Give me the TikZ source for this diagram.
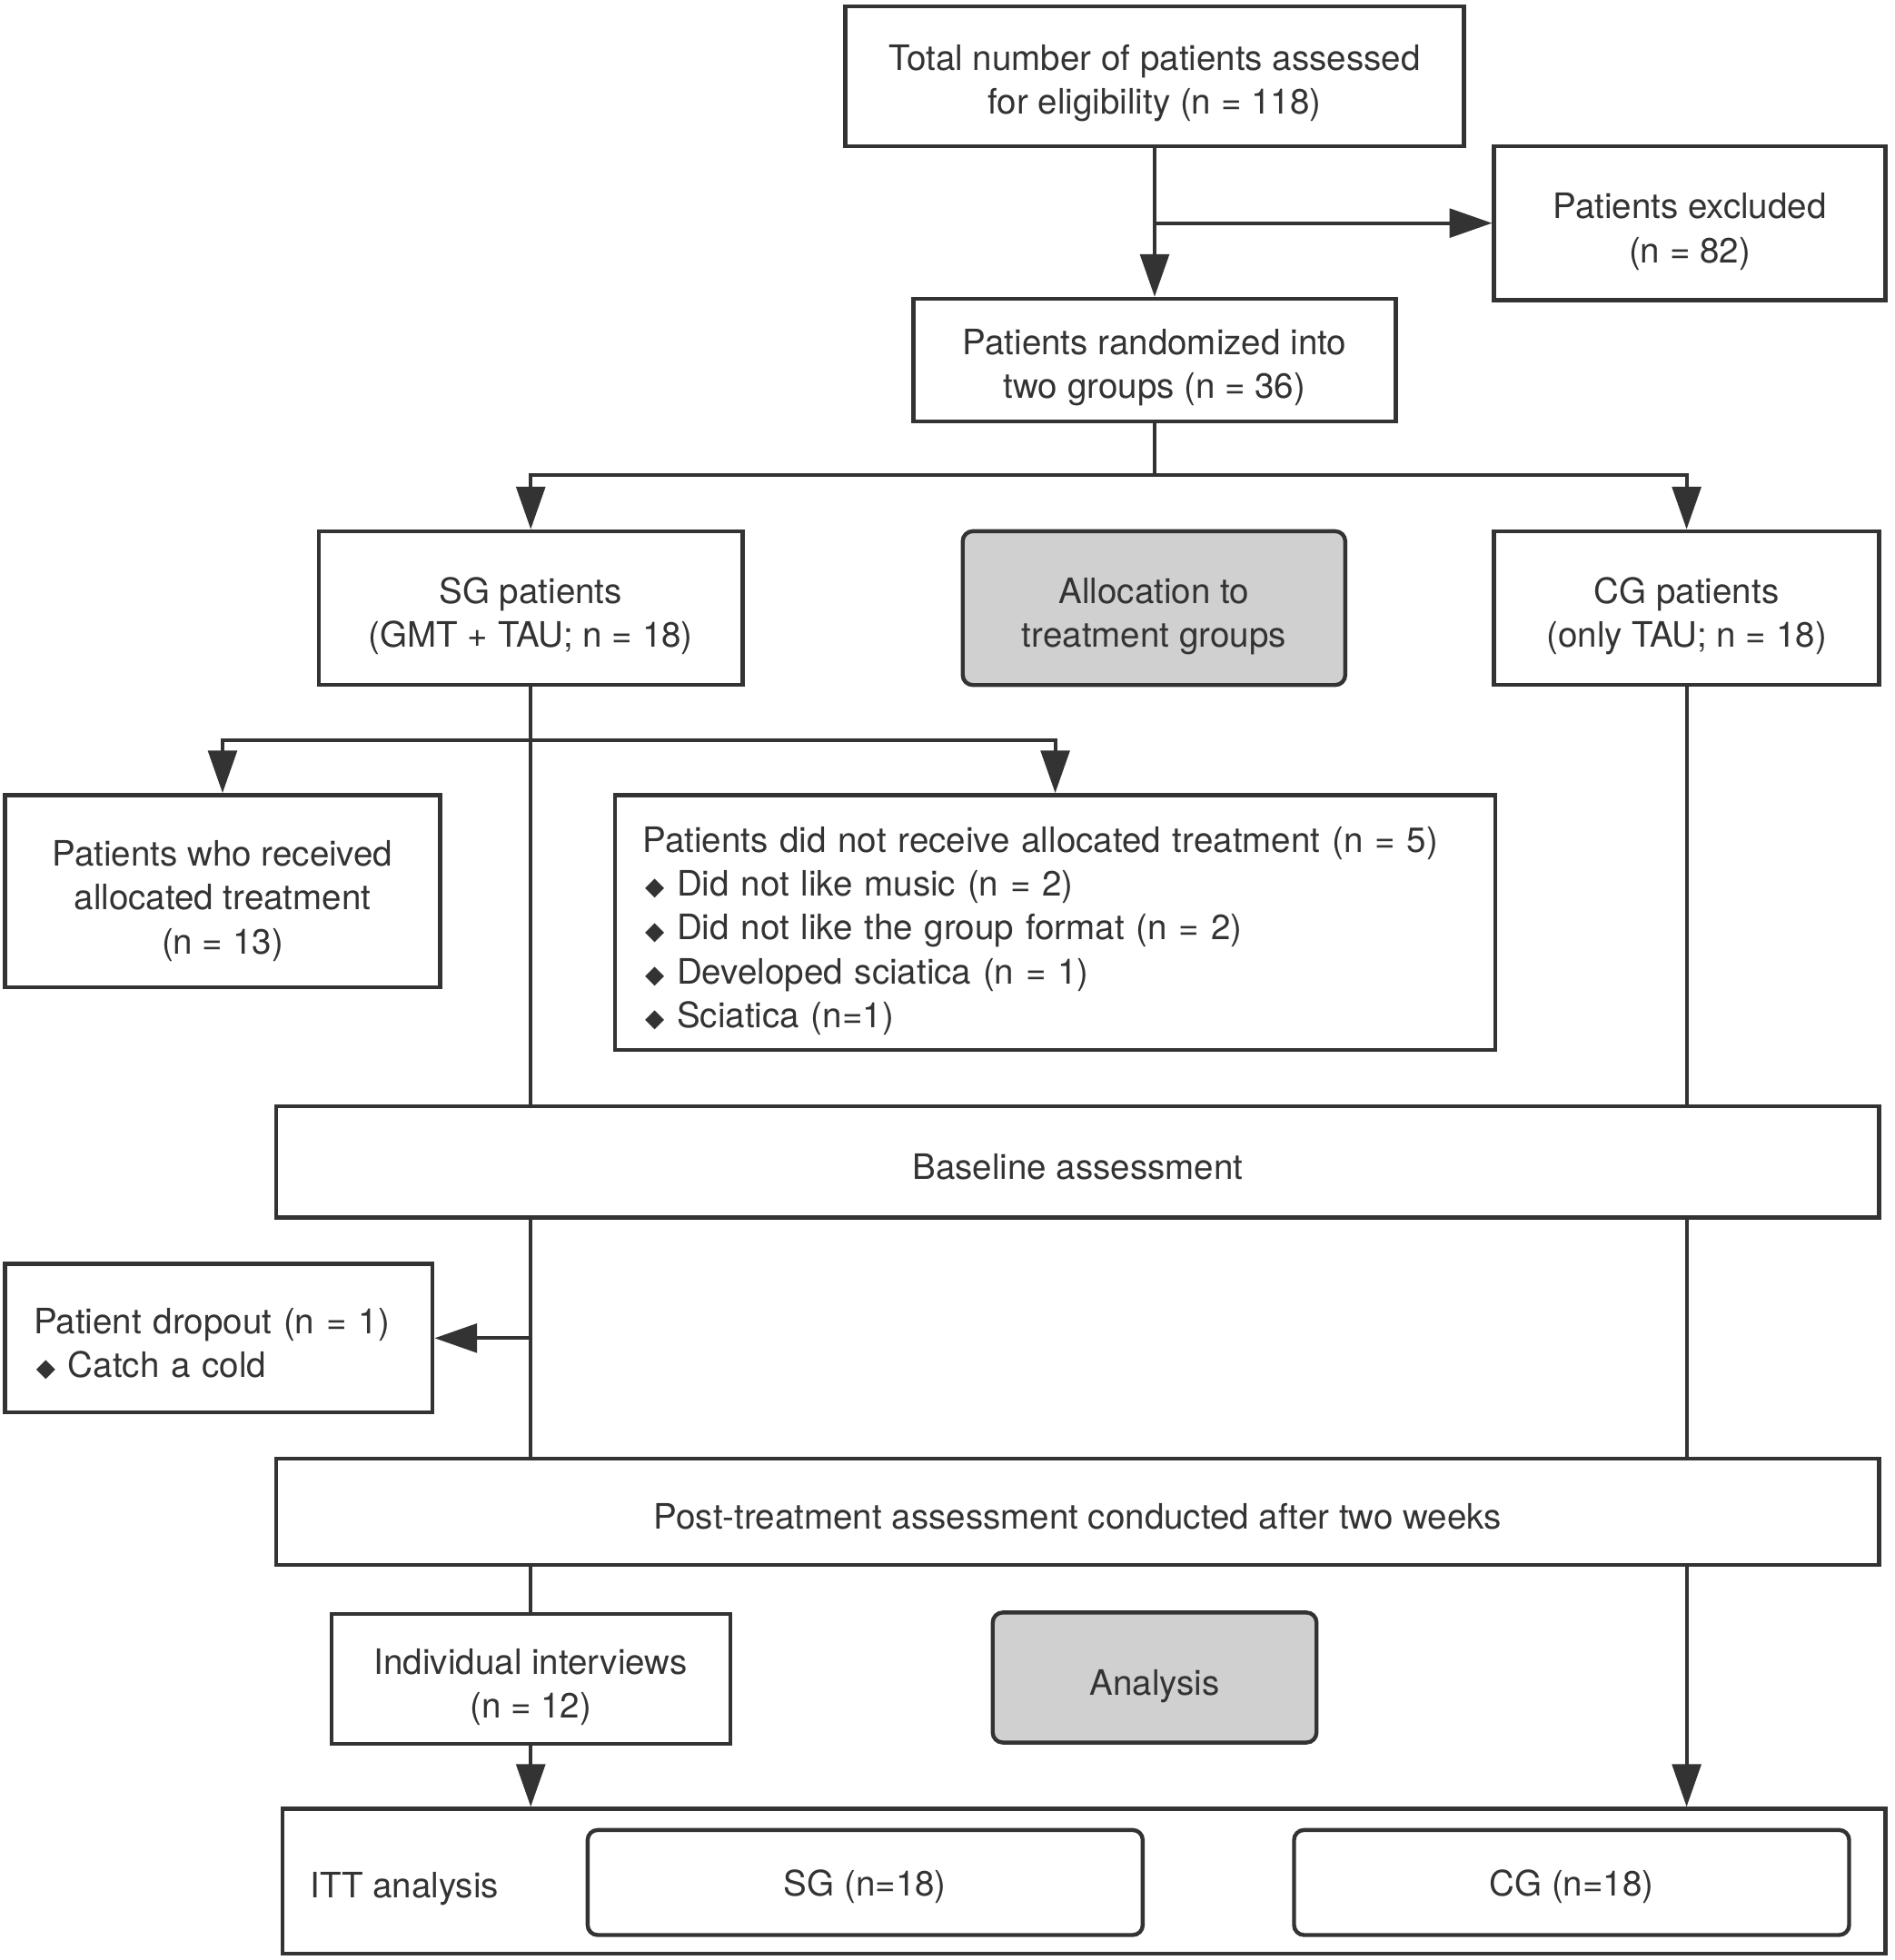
\documentclass[tikz,border=0pt]{standalone}
\usepackage{fontspec}
\setmainfont{TeX Gyre Heros}
\newfontfamily\symfont{DejaVu Sans}
\usetikzlibrary{arrows.meta}
\definecolor{ink}{HTML}{333333}
\definecolor{boxgray}{HTML}{D0D0D0}
\newcommand{\dmd}{\hspace*{1pt}{\symfont\fontsize{10}{10}\selectfont\raisebox{0.3pt}{◆}}\hspace{5pt}}
\newcommand{\ctext}[2][3.5pt]{\raisebox{-#1}[\height][\depth]{\begin{tabular}{@{}c@{}}#2\end{tabular}}}
\newcommand{\ltext}[2][3.5pt]{\raisebox{-#1}[\height][\depth]{\begin{tabular}{@{}l@{}}#2\end{tabular}}}
\tikzset{
  box/.style={draw=ink, line width=1.6pt, fill=white, inner sep=0pt, align=center, text=ink},
  gbox/.style={box, fill=boxgray, rounded corners=4pt},
  rbox/.style={box, rounded corners=4pt},
  conn/.style={draw=ink, line width=1.4pt},
  arr/.style={conn, -{Triangle[length=17pt,width=11.5pt]}}
}
\begin{document}
\begin{tikzpicture}[x=0.5pt,y=-0.5pt,font=\fontsize{14}{17.5}\selectfont]
\useasboundingbox (0,0) rectangle (1515,1568);
% boxes
\node[box, minimum width=247.5pt, minimum height=56pt] (total) at (923.5,61) {\ctext[3pt]{Total number of patients assessed\\for eligibility (n = 118)}};
\node[box, minimum width=156.5pt, minimum height=61.5pt] (excl) at (1351.5,178.5) {\ctext{Patients excluded\\(n = 82)}};
\node[box, minimum width=193pt, minimum height=49pt] (rand) at (923.5,288) {\ctext[3pt]{Patients randomized into\\two groups (n = 36)}};
\node[box, minimum width=169.5pt, minimum height=61.5pt] (sg) at (424.5,486.5) {\ctext{SG patients\\(GMT + TAU; n = 18)}};
\node[gbox, minimum width=153pt, minimum height=61.5pt] (alloc) at (923,486.5) {\ctext{Allocation to\\treatment groups}};
\node[box, minimum width=154pt, minimum height=61.5pt] (cg) at (1349,486.5) {\ctext{CG patients\\(only TAU; n = 18)}};
\node[box, minimum width=174pt, minimum height=77pt] (recv) at (178,713) {\ctext[4pt]{Patients who received\\allocated treatment\\(n = 13)}};
\node[box, text width=330pt, inner xsep=11pt, minimum height=102pt, align=left] (notr) at (844,738) {\ltext{Patients did not receive allocated treatment (n = 5)\\\dmd Did not like music (n = 2)\\\dmd Did not like the group format (n = 2)\\\dmd Developed sciatica (n = 1)\\\dmd Sciatica (n=1)}};
\node[box, minimum width=641pt, minimum height=44.5pt] (base) at (862,929.5) {\ctext{Baseline assessment}};
\node[box, text width=148pt, inner xsep=11.5pt, minimum height=59.5pt, align=left] (drop) at (175,1070.5) {\ltext{Patient dropout (n = 1)\\\dmd Catch a cold}};
\node[box, minimum width=641pt, minimum height=42.5pt] (post) at (862,1209.5) {\ctext{Post-treatment assessment conducted after two weeks}};
\node[box, minimum width=159.5pt, minimum height=52pt] (intv) at (424.5,1343) {\ctext{Individual interviews\\(n = 12)}};
\node[gbox, minimum width=129.5pt, minimum height=52pt] (anal) at (923.5,1342) {\ctext{Analysis}};
\node[box, minimum width=641pt, minimum height=58pt] (itt) at (867,1505) {};
\node[anchor=west, text=ink, inner sep=0pt] (ittlab) at (248,1507) {\ctext[2pt]{ITT analysis}};
\node[rbox, minimum width=222pt, minimum height=42pt] (sga) at (692,1506) {\ctext[2pt]{SG (n=18)}};
\node[rbox, minimum width=222pt, minimum height=42pt] (cga) at (1257,1506) {\ctext[2pt]{CG (n=18)}};
% connectors
\draw[arr] (total.south) -- (rand.north);
\draw[arr] (total.south |- excl.west) -- (excl.west);
\coordinate (r1) at (923.5,380);
\draw[conn] (rand.south) -- (r1);
\draw[arr] (r1) -| (sg.north);
\draw[arr] (r1) -| (cg.north);
\draw[conn] (sg.south) -- (sg.south |- base.north);
\coordinate (s1) at (424.5,592);
\draw[arr] (s1) -| (recv.north);
\draw[arr] (s1) -| (notr.north);
\draw[conn] (cg.south) -- (cg.south |- base.north);
\draw[conn] (sg.south |- base.south) -- (sg.south |- post.north);
\draw[arr] (sg.south |- drop.east) -- (drop.east);
\draw[conn] (cg.south |- base.south) -- (cg.south |- post.north);
\draw[conn] (intv.north |- post.south) -- (intv.north);
\draw[arr] (intv.south) -- (intv.south |- itt.north);
\draw[arr] (cg.south |- post.south) -- (cg.south |- itt.north);
\end{tikzpicture}
\end{document}
